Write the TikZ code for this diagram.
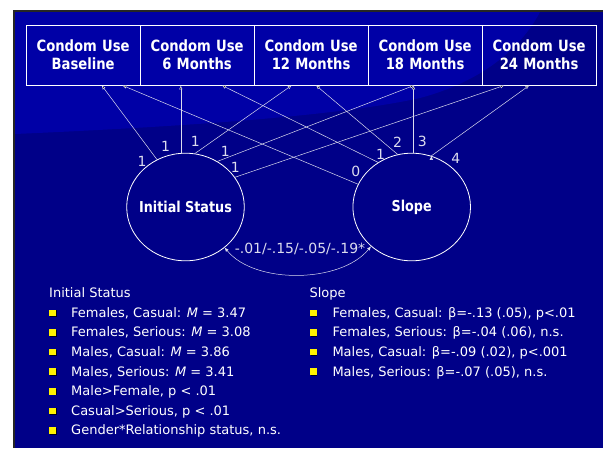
\documentclass[tikz,border=0pt]{standalone}
\usepackage{fontspec}
\setmainfont{DejaVu Sans}
\newfontfamily\narrowfont{DejaVu Sans}[FakeStretch=0.85]
\usetikzlibrary{matrix,arrows.meta,shapes.geometric,shadows}

\definecolor{slidedark}{RGB}{0,0,136}
\definecolor{slidelight}{RGB}{0,0,166}
\definecolor{pathgray}{RGB}{220,220,238}

\tikzset{
	latent/.style={draw=white, line width=0.8pt, ellipse, minimum width=117.6pt, minimum height=107.6pt, inner sep=0pt},
	lvname/.style={text=white, font=\fontsize{15}{18}\narrowfont\bfseries},
	loading/.style={draw=pathgray, line width=0.5pt, -{Latex[length=4pt,width=3.5pt]}},
	loadlbl/.style={text=pathgray, font=\fontsize{14}{16}\selectfont, inner sep=0pt},
	bul/.style={fill=yellow, inner sep=0pt, minimum size=6.5pt, drop shadow={shadow xshift=0.8pt, shadow yshift=-0.8pt, fill=black, opacity=0.8}},
	listitem/.style={text=white, font=\fontsize{13}{15}\selectfont, anchor=base west, inner sep=0pt}
}

\begin{document}
\begin{tikzpicture}[x=1pt,y=-1pt]
	% slide background
	\fill[white] (0,0) rectangle (603,448);
	\fill[black!85] (12.7,10) rectangle (603,448);
	\fill[slidedark] (15,12) rectangle (603,448);
	\fill[slidelight] (15,12) -- (15,134) .. controls (150,128) and (330,118) .. (420,98) .. controls (480,82) and (520,50) .. (540,12) -- cycle;

	% observed variables
	\matrix (cu) [matrix of nodes, column sep=-0.8pt,
		nodes={draw=white, line width=0.8pt, minimum width=114pt, minimum height=60pt, inner sep=0pt,
			text width=100pt, align=center, text=white, font=\fontsize{15.5}{18}\narrowfont\bfseries}] at (311.1,55)
	{
		Condom Use Baseline & Condom Use 6 Months & Condom Use 12 Months & Condom Use 18 Months & Condom Use 24 Months \\
	};

	% latent growth factors
	\node[latent] (init) at (185.5,207) {};
	\node[lvname] (initname) at (init) {Initial Status};
	\node[latent] (slope) at (411.7,207) {};
	\node[lvname] (slopename) at (slope) {Slope};

	\path[loading]
	(init.121) edge node[loadlbl, pos=0, shift={(-14.8,2)}] {1} ([xshift=18.6pt]cu-1-1.south)
	(init.95) edge node[loadlbl, pos=0, shift={(-15.2,-7)}] {1} (init.95 |- cu-1-2.south)
	(init.80) edge node[loadlbl, pos=0, shift={(0.3,-12.5)}] {1} ([xshift=-19.4pt]cu-1-3.south)
	(init.55) edge node[loadlbl, pos=0, shift={(7.8,-10)}] {1} ([xshift=-11pt]cu-1-4.south)
	(init.31) edge node[loadlbl, pos=0, shift={(0.3,-9.7)}] {1} ([xshift=-34.8pt]cu-1-5.south)
	(slope.157) edge node[loadlbl, pos=0, shift={(-2.2,-12.5)}] {0} ([xshift=39.3pt]cu-1-1.south)
	(slope.127) edge node[loadlbl, pos=0, shift={(2.6,-7.9)}] {1} ([xshift=24.8pt]cu-1-2.south)
	(slope.105) edge node[loadlbl, pos=0, shift={(0,-11.8)}] {2} ([xshift=4.9pt]cu-1-3.south)
	(slope.88) edge node[loadlbl, pos=0, shift={(8.7,-11.5)}] {3} (slope.88 |- cu-1-4.south)
	(slope.69) edge node[loadlbl, pos=0, shift={(24.6,2.5)}] {4} ([xshift=-9.8pt]cu-1-5.south)
	;

	% factor covariance
	\draw[draw=pathgray, line width=0.5pt, {Latex[length=4pt,width=3.5pt]}-{Latex[length=4pt,width=3.5pt]}]
	(init.-46) .. controls +(30,37) and +(-30,37) .. (slope.-136);
	\node[loadlbl] (cov) at (300,249) {-.01/-.15/-.05/-.19*};

	% means and slopes
	\node[listitem] (ihead) at (49,297.7) {Initial Status};
	\foreach \txt [count=\i] in {{Females, Casual: \textit{M} = 3.47}, {Females, Serious: \textit{M} = 3.08},
		{Males, Casual: \textit{M} = 3.86}, {Males, Serious: \textit{M} = 3.41}, {Male>Female, p < .01},
		{Casual>Serious, p < .01}, {Gender*Relationship status, n.s.}}{
		\node[bul] (ibul\i) at (52.5,293.3+19.6*\i) {};
		\node[listitem] (itxt\i) at (71,297.7+19.6*\i) {\txt};
	}
	\node[listitem] (shead) at (309.3,297.7) {Slope};
	\foreach \txt [count=\i] in {{Females, Casual: β=-.13 (.05), p<.01}, {Females, Serious: β=-.04 (.06), n.s.},
		{Males, Casual: β=-.09 (.02), p<.001}, {Males, Serious: β=-.07 (.05), n.s.}}{
		\node[bul] (sbul\i) at (313.3,293.3+19.6*\i) {};
		\node[listitem] (stxt\i) at (332.3,297.7+19.6*\i) {\txt};
	}
	\pgfresetboundingbox
	\useasboundingbox (0,0) rectangle (603,448);
\end{tikzpicture}
\end{document}
